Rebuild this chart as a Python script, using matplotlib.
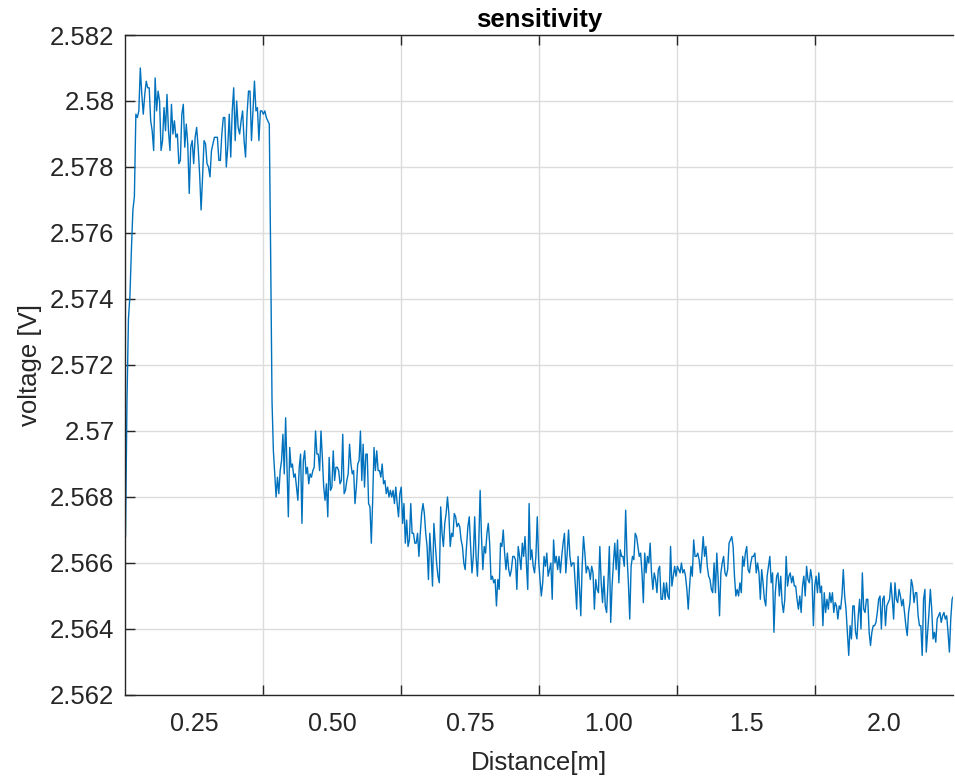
import matplotlib.pyplot as plt
from matplotlib.ticker import FixedLocator, NullFormatter
import numpy as np

# Data: sensor voltage read along the track (near run, then far run)
v_near = [
    2.5668, 2.5709, 2.5734, 2.5741, 2.5755, 2.5767, 2.5771,
    2.5796, 2.5795, 2.5797, 2.5810, 2.5802, 2.5796, 2.5802, 2.5806, 2.5804, 2.5804,
    2.5794, 2.5791, 2.5785, 2.5807, 2.5797, 2.5803, 2.5800, 2.5785, 2.5788, 2.5798,
    2.5791, 2.5802, 2.5791, 2.5785, 2.5799, 2.5790, 2.5794, 2.5789, 2.5790, 2.5781,
    2.5782, 2.5796, 2.5799, 2.5786, 2.5793, 2.5787, 2.5772, 2.5786, 2.5788, 2.5781,
    2.5789, 2.5792, 2.5786, 2.5778, 2.5767, 2.5777, 2.5788, 2.5787, 2.5781, 2.5780,
    2.5777, 2.5785, 2.5787, 2.5789, 2.5789, 2.5789, 2.5782, 2.5782, 2.5790, 2.5795,
    2.5795, 2.5780, 2.5786, 2.5796, 2.5783, 2.5797, 2.5804, 2.5788, 2.5800, 2.5792,
    2.5790, 2.5794, 2.5797, 2.5788, 2.5783, 2.5796, 2.5803, 2.5803, 2.5788, 2.5797,
    2.5806, 2.5797, 2.5798, 2.5788, 2.5797, 2.5797, 2.5796, 2.5797, 2.5795, 2.5794,
    2.5793,
]
v_far = [
    2.5753, 2.5709, 2.5694, 2.5687, 2.5680, 2.5686, 2.5681, 2.5688, 2.5691, 2.5699,
    2.5687, 2.5704, 2.5689, 2.5674, 2.5695, 2.5689, 2.5690, 2.5686, 2.5687, 2.5683,
    2.5679, 2.5689, 2.5693, 2.5672, 2.5691, 2.5694, 2.5687, 2.5689, 2.5684, 2.5687,
    2.5686, 2.5688, 2.5689, 2.5700, 2.5693, 2.5693, 2.5688, 2.5700, 2.5692, 2.5683,
    2.5679, 2.5684, 2.5674, 2.5692, 2.5682, 2.5683, 2.5694, 2.5685, 2.5689,
    2.5689, 2.5688, 2.5684, 2.5685, 2.5699, 2.5681, 2.5682, 2.5685, 2.5687, 2.5696,
    2.5690, 2.5687, 2.5688, 2.5678, 2.5683, 2.5690, 2.5691, 2.5700, 2.5685, 2.5696,
    2.5683, 2.5693, 2.5693, 2.5678, 2.5677, 2.5666, 2.5679, 2.5695, 2.5688, 2.5694,
    2.5688, 2.5688, 2.5686, 2.5690, 2.5684, 2.5685, 2.5681, 2.5683, 2.5680, 2.5682,
    2.5680, 2.5682, 2.5678, 2.5683, 2.5678, 2.5674, 2.5681, 2.5683, 2.5672, 2.5678,
    2.5666, 2.5673, 2.5665,
    2.5667, 2.5678, 2.5669, 2.5669, 2.5666, 2.5666, 2.5669, 2.5662, 2.5669, 2.5675,
    2.5678, 2.5675, 2.5669, 2.5665, 2.5655, 2.5669, 2.5662, 2.5653, 2.5672, 2.5666,
    2.5660, 2.5656, 2.5654, 2.5677, 2.5669, 2.5665, 2.5672, 2.5675, 2.5680, 2.5675,
    2.5665, 2.5669, 2.5668, 2.5675, 2.5674, 2.5671, 2.5672, 2.5671, 2.5667, 2.5665,
    2.5660, 2.5658, 2.5665, 2.5671, 2.5674, 2.5665, 2.5657, 2.5662, 2.5674, 2.5662,
    2.5656, 2.5666, 2.5682, 2.5668, 2.5658, 2.5665,
    2.5663, 2.5669, 2.5672, 2.5666, 2.5655, 2.5656, 2.5654, 2.5655, 2.5647, 2.5655,
    2.5652, 2.5666, 2.5665, 2.5670, 2.5663, 2.5658, 2.5663, 2.5658, 2.5656, 2.5658,
    2.5662, 2.5662, 2.5661, 2.5652, 2.5665, 2.5662, 2.5658, 2.5666, 2.5662, 2.5668,
    2.5660, 2.5652, 2.5678, 2.5661, 2.5664, 2.5659, 2.5657, 2.5662, 2.5674, 2.5661,
    2.5655, 2.5650, 2.5654, 2.5662, 2.5659, 2.5663, 2.5656, 2.5658, 2.5660, 2.5649,
    2.5667, 2.5660, 2.5662, 2.5658, 2.5662, 2.5657, 2.5662, 2.5666,
    2.5669, 2.5657, 2.5663, 2.5670, 2.5662, 2.5659, 2.5660, 2.5660, 2.5653, 2.5646,
    2.5662, 2.5653, 2.5644, 2.5659, 2.5668, 2.5663, 2.5657, 2.5659, 2.5658, 2.5655,
    2.5659, 2.5657, 2.5646, 2.5655, 2.5652, 2.5651, 2.5665, 2.5654, 2.5648, 2.5656,
    2.5647, 2.5645, 2.5654, 2.5665, 2.5642, 2.5653, 2.5660, 2.5666, 2.5658, 2.5667,
    2.5654, 2.5664, 2.5662, 2.5662, 2.5659, 2.5676, 2.5662, 2.5654, 2.5643, 2.5659,
    2.5662, 2.5661, 2.5669, 2.5668, 2.5665, 2.5662, 2.5663, 2.5657, 2.5648, 2.5663,
    2.5657, 2.5662, 2.5660, 2.5666, 2.5657, 2.5652, 2.5657, 2.5655, 2.5651, 2.5658,
    2.5659, 2.5649, 2.5649, 2.5654, 2.5649, 2.5654, 2.5650, 2.5649, 2.5665, 2.5653,
    2.5656, 2.5659, 2.5656, 2.5659, 2.5658, 2.5657, 2.5660, 2.5657, 2.5658, 2.5656,
    2.5652, 2.5646, 2.5653, 2.5659, 2.5656, 2.5667, 2.5662, 2.5662, 2.5663, 2.5661,
    2.5657, 2.5662, 2.5668, 2.5662, 2.5665, 2.5659, 2.5656, 2.5655, 2.5652, 2.5651,
    2.5660, 2.5651, 2.5663, 2.5655, 2.5644, 2.5657, 2.5660, 2.5662, 2.5657, 2.5656,
    2.5658, 2.5666, 2.5667, 2.5668, 2.5665, 2.5656, 2.5650, 2.5652, 2.5650, 2.5654,
    2.5651, 2.5662, 2.5659, 2.5663, 2.5665, 2.5658, 2.5657, 2.5660, 2.5662, 2.5662,
    2.5663, 2.5657, 2.5660, 2.5657, 2.5649, 2.5658, 2.5654, 2.5649, 2.5647, 2.5656,
    2.5659, 2.5662, 2.5654, 2.5657, 2.5639, 2.5651, 2.5656, 2.5657, 2.5650, 2.5656,
    2.5648, 2.5645, 2.5649, 2.5662, 2.5653, 2.5656, 2.5657, 2.5654, 2.5656, 2.5653,
    2.5653, 2.5649, 2.5646, 2.5650, 2.5645, 2.5653, 2.5656, 2.5650, 2.5659, 2.5655,
    2.5654, 2.5658, 2.5655, 2.5641, 2.5653, 2.5656, 2.5651, 2.5657, 2.5651, 2.5653,
    2.5641, 2.5651, 2.5645, 2.5649, 2.5646, 2.5651, 2.5648, 2.5651, 2.5645, 2.5648,
    2.5647, 2.5643, 2.5647, 2.5646, 2.5650, 2.5658, 2.5650, 2.5646, 2.5639, 2.5632,
    2.5641, 2.5637, 2.5647, 2.5647, 2.5639, 2.5637, 2.5644, 2.5649, 2.5640, 2.5657,
    2.5646, 2.5645, 2.5649, 2.5649, 2.5639, 2.5635, 2.5639, 2.5641, 2.5641, 2.5642,
    2.5645, 2.5649, 2.5650, 2.5640, 2.5649, 2.5650, 2.5641, 2.5647, 2.5648, 2.5649,
    2.5654, 2.5649, 2.5643, 2.5654, 2.5649, 2.5648, 2.5652, 2.5650, 2.5647, 2.5649,
    2.5645, 2.5641, 2.5638, 2.5645, 2.5648, 2.5655, 2.5653, 2.5648, 2.5651, 2.5651,
    2.5644, 2.5641, 2.5641, 2.5632, 2.5649, 2.5652, 2.5633, 2.5639, 2.5645, 2.5652,
    2.5646, 2.5637, 2.5639, 2.5636, 2.5643, 2.5644, 2.5645, 2.5642, 2.5644, 2.5645,
    2.5643, 2.5644, 2.5639, 2.5633, 2.5643, 2.5649, 2.5650,
]
near_span = (0.0, 1.042)
far_span = (1.052, 6.0)

x_labels = ['0.25', '0.50', '0.75', '1.00', '1.5', '2.0']
y_ticks = [2.562, 2.564, 2.566, 2.568, 2.570, 2.572, 2.574, 2.576, 2.578, 2.580, 2.582]

x = np.concatenate([np.linspace(*near_span, len(v_near)),
                    np.linspace(*far_span, len(v_far))])
y = np.array(v_near + v_far)

plt.rcParams['font.family'] = ['Liberation Sans', 'DejaVu Sans']
txt = '#262626'

fig = plt.figure(figsize=(9.55, 7.83), dpi=100)
ax = fig.add_axes([0.1314, 0.1124, 0.867, 0.8429])

ax.plot(x, y, color='#0072BD', linewidth=1.0)

ax.set_xlim(0, 6)
ax.set_ylim(2.562, 2.582)

# grid/tick marks on integer positions, labels centred between them
ax.xaxis.set_major_locator(FixedLocator([1, 2, 3, 4, 5]))
ax.xaxis.set_major_formatter(NullFormatter())
ax.xaxis.set_minor_locator(FixedLocator([0.5, 1.5, 2.5, 3.5, 4.5, 5.5]))
ax.set_xticklabels(x_labels, minor=True)
ax.tick_params(axis='x', which='minor', length=0, pad=12,
               labelsize=18, labelcolor=txt)
ax.tick_params(axis='x', which='major', direction='in', length=7, top=True,
               width=1.0, color=txt)

ax.set_yticks(y_ticks)
ax.set_yticklabels([f'{t:g}' for t in y_ticks])
ax.tick_params(axis='y', direction='in', length=7, width=1.0, color=txt, pad=8,
               labelsize=18.5, labelcolor=txt)

ax.grid(True, which='major', color='#dcdcdc', linewidth=1.0)
ax.set_axisbelow(True)

for side in ['left', 'bottom', 'top']:
    ax.spines[side].set_color(txt)
    ax.spines[side].set_linewidth(1.0)
ax.spines['right'].set_visible(False)

ax.set_xlabel('Distance[m]', fontsize=18.5, color=txt, labelpad=11)
ax.set_ylabel('voltage [V]', fontsize=18.5, color=txt, labelpad=6)
ax.set_title('sensitivity', fontsize=18.5, fontweight='bold', color='black', pad=6)

fig.savefig('out.png', dpi=100)
